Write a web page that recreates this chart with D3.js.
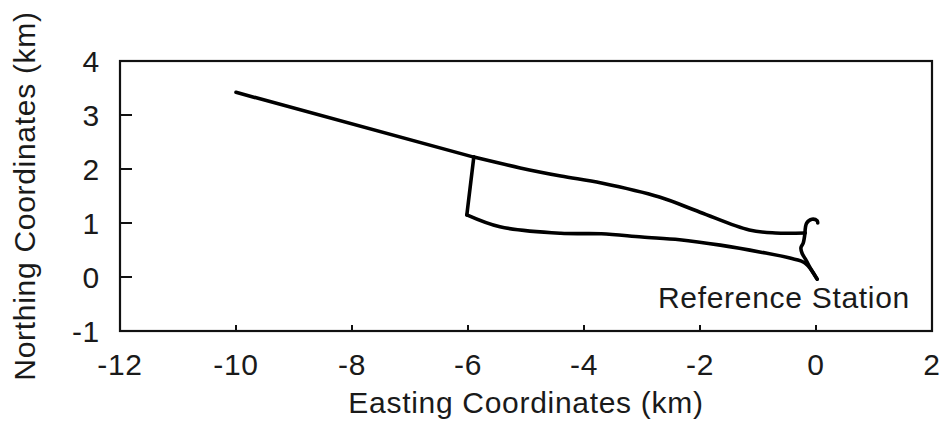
<!DOCTYPE html>
<html>
<head>
<meta charset="utf-8">
<script src="https://cdn.jsdelivr.net/npm/d3@7"></script>
<style>
  html, body { margin: 0; padding: 0; background: #fff; }
  svg text { font-family: "Liberation Sans", Arial, sans-serif; font-size: 30px; letter-spacing: 0.7px; fill: #1a1a1a; }
  .frame { fill: none; stroke: #111; stroke-width: 2.2; }
  .tick-mark { stroke: #111; stroke-width: 2; }
  .track { fill: none; stroke: #000; stroke-width: 3.6; stroke-linejoin: round; stroke-linecap: round; }
</style>
</head>
<body>
<div id="chart"></div>
<script>
// Survey traverse, [easting km, northing km] pairs.
const westLeg = [[-10.0, 3.42], [-5.9, 2.22]];
const northRoute = [
  [-5.9, 2.22], [-5.1, 2.02], [-4.4, 1.87], [-3.7, 1.74], [-2.7, 1.48],
  [-2.0, 1.2], [-1.15, 0.87], [-0.7, 0.815], [-0.19, 0.815],
];
const crossLink = [[-5.9, 2.22], [-6.02, 1.15]];
const southRoute = [
  [-6.02, 1.15], [-5.45, 0.93], [-4.4, 0.81], [-3.7, 0.8], [-3.0, 0.74],
  [-2.35, 0.69], [-1.65, 0.59], [-0.95, 0.46], [-0.45, 0.35], [-0.19, 0.26], [0.02, -0.04],
];
const stationHook = [[-0.19, 0.815], [-0.16, 1.0], [-0.07, 1.07], [0.02, 1.04], [0.03, 1.0]];
const stationDrop = [
  [-0.19, 0.815], [-0.22, 0.63], [-0.26, 0.54], [-0.24, 0.44], [-0.17, 0.31], [-0.1, 0.17], [0.02, -0.04],
];

const eastTicks = [-12, -10, -8, -6, -4, -2, 0, 2];
const northTicks = [-1, 0, 1, 2, 3, 4];
const xTitle = 'Easting Coordinates (km)';
const yTitle = 'Northing Coordinates (km)';
const stationLabel = 'Reference Station';

const W = 941, H = 421;
const margin = { top: 61, right: 9, bottom: 90, left: 120 };
const innerW = W - margin.left - margin.right;
const innerH = H - margin.top - margin.bottom;

const svg = d3.select('#chart').append('svg').attr('width', W).attr('height', H);
const g = svg.append('g').attr('transform', `translate(${margin.left},${margin.top})`);

const x = d3.scaleLinear().domain([-12, 2]).range([0, innerW]);
const y = d3.scaleLinear().domain([-1, 4]).range([innerH, 0]);

// x ticks point up into the plot, short; y ticks point right, longer
const xAxis = g.append('g').attr('transform', `translate(0,${innerH})`);
xAxis.selectAll('line').data(eastTicks).join('line')
  .attr('class', 'tick-mark')
  .attr('x1', (d) => x(d)).attr('x2', (d) => x(d))
  .attr('y1', 0).attr('y2', -6);
xAxis.selectAll('text').data(eastTicks).join('text')
  .attr('x', (d) => x(d)).attr('y', 44)
  .attr('text-anchor', 'middle')
  .text((d) => d);

const yAxis = g.append('g');
yAxis.selectAll('line').data(northTicks).join('line')
  .attr('class', 'tick-mark')
  .attr('x1', 0).attr('x2', 12)
  .attr('y1', (d) => y(d)).attr('y2', (d) => y(d));
yAxis.selectAll('text').data(northTicks).join('text')
  .attr('x', -20).attr('y', (d) => y(d))
  .attr('dy', '0.36em')
  .attr('text-anchor', 'end')
  .text((d) => d);

g.append('rect').attr('class', 'frame').attr('width', innerW).attr('height', innerH);

// straight legs stay linear, the winding roads get a light smoothing
const straight = d3.line().x((d) => x(d[0])).y((d) => y(d[1]));
const winding = d3.line().x((d) => x(d[0])).y((d) => y(d[1])).curve(d3.curveCatmullRom.alpha(0.5));
[westLeg, crossLink].forEach((seg) => {
  g.append('path').attr('class', 'track').attr('d', straight(seg));
});
[northRoute, southRoute, stationHook, stationDrop].forEach((seg) => {
  g.append('path').attr('class', 'track').attr('d', winding(seg));
});

// label sits just below-left of the station at the origin
g.append('text')
  .attr('x', x(0) + 94).attr('y', y(0) + 31)
  .attr('text-anchor', 'end')
  .text(stationLabel);

svg.append('text')
  .attr('x', margin.left + innerW / 2).attr('y', 413)
  .attr('text-anchor', 'middle')
  .text(xTitle);

svg.append('text')
  .attr('transform', `translate(35,${margin.top + innerH / 2}) rotate(-90)`)
  .attr('text-anchor', 'middle')
  .text(yTitle);
</script>
</body>
</html>
